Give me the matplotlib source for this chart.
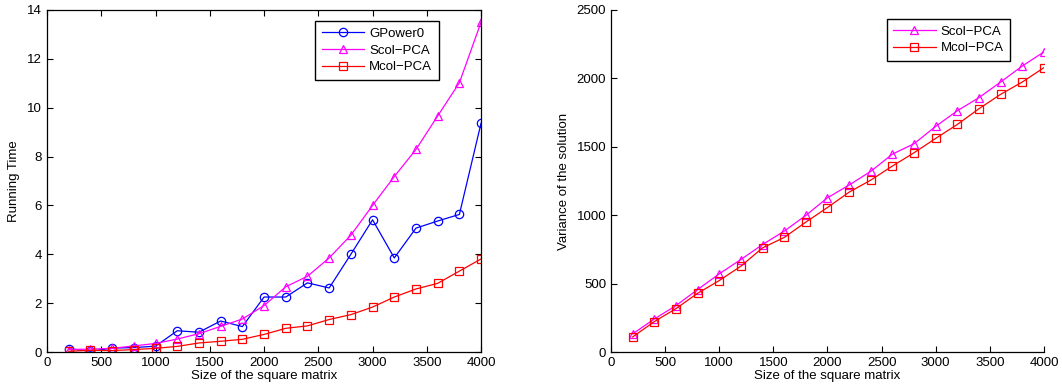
import numpy as np
import matplotlib
matplotlib.use('Agg')
import matplotlib.pyplot as plt

plt.rcParams['font.family'] = ['Liberation Sans', 'DejaVu Sans']

sizes = list(range(200, 4001, 200))

# running time
gpower0 = [0.14, 0.03, 0.16, 0.18, 0.24, 0.87, 0.81, 1.27, 1.04, 2.25,
           2.25, 2.83, 2.62, 4.0, 5.41, 3.85, 5.07, 5.36, 5.63, 9.37]
scol_time = [0.1, 0.12, 0.15, 0.25, 0.35, 0.53, 0.75, 1.05, 1.35, 1.9,
             2.67, 3.1, 3.85, 4.78, 6.0, 7.18, 8.29, 9.66, 11.02, 13.5]
mcol_time = [0.03, 0.07, 0.06, 0.1, 0.15, 0.23, 0.37, 0.44, 0.52, 0.72,
             0.97, 1.07, 1.33, 1.53, 1.84, 2.25, 2.58, 2.81, 3.31, 3.81]

# variance of the solution
scol_var = [132, 241, 339, 456, 571, 676, 785, 883, 998, 1127,
            1220, 1320, 1446, 1522, 1649, 1763, 1859, 1973, 2090, 2193]
mcol_var = [110, 222, 317, 429, 522, 627, 761, 837, 949, 1056,
            1168, 1256, 1359, 1456, 1561, 1663, 1778, 1883, 1973, 2078]

fig = plt.figure(figsize=(10.62, 3.91), dpi=100)
ax1 = fig.add_axes([0.0443, 0.0997, 0.4087, 0.875])
ax2 = fig.add_axes([0.5753, 0.0997, 0.4077, 0.875])

mk = dict(markersize=6, markerfacecolor='none', linewidth=0.9, markeredgewidth=0.9)
ax1.plot(sizes, gpower0, 'o-', color='blue', label='GPower0', **mk)
ax1.plot(sizes, scol_time, '^-', color='magenta', label='Scol\u2212PCA', **mk)
ax1.plot(sizes, mcol_time, 's-', color='red', label='Mcol\u2212PCA', **mk)
ax1.set_xlim(0, 4000)
ax1.set_ylim(0, 14)
ax1.set_xticks(np.arange(0, 4001, 500))
ax1.set_yticks(np.arange(0, 15, 2))
ax1.set_xlabel('Size of the square matrix', fontsize=9.5, labelpad=1)
ax1.set_ylabel('Running Time', fontsize=9.5, labelpad=5)
ax1.tick_params(direction='in', top=True, right=True, labelsize=9.5, length=4)

ax2.plot(sizes, scol_var, '^-', color='magenta', label='Scol\u2212PCA', **mk)
ax2.plot(sizes, mcol_var, 's-', color='red', label='Mcol\u2212PCA', **mk)
ax2.set_xlim(0, 4000)
ax2.set_ylim(0, 2500)
ax2.set_xticks(np.arange(0, 4001, 500))
ax2.set_yticks(np.arange(0, 2501, 500))
ax2.set_xlabel('Size of the square matrix', fontsize=9.5, labelpad=1)
ax2.set_ylabel('Variance of the solution', fontsize=9.5, labelpad=5)
ax2.spines['top'].set_visible(False)
ax2.spines['right'].set_visible(False)
ax2.tick_params(direction='in', labelsize=9.5, length=4)

for ax, loc in ((ax1, (0.6175, 0.968)), (ax2, (0.637, 0.974))):
    leg = ax.legend(loc='upper left', bbox_to_anchor=loc, fontsize=9.5,
                    fancybox=False, framealpha=1, edgecolor='black',
                    handlelength=3.2, borderpad=0.5, labelspacing=0.35,
                    handletextpad=0.4, borderaxespad=0)
    leg.get_frame().set_linewidth(1.0)

for ax in (ax1, ax2):
    for s in ax.spines.values():
        s.set_linewidth(0.9)

fig.savefig('out.png', dpi=100)
